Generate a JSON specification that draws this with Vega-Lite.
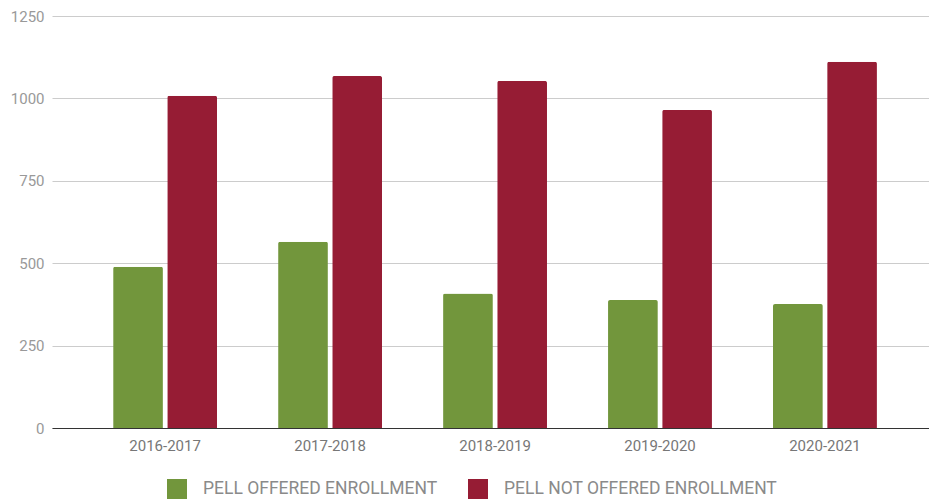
{
  "$schema": "https://vega.github.io/schema/vega-lite/v6.json",
  "width": 877,
  "height": 412,
  "autosize": {"type": "none"},
  "padding": {"left": 52, "top": 16, "right": 0, "bottom": 74},
  "background": "white",
  "config": {
    "view": {"stroke": null},
    "font": "Roboto",
    "axis": {"labelFont": "Roboto", "labelFontSize": 15, "ticks": false}
  },
  "data": {
    "values": [
      {"year": "2016-2017", "group": "PELL OFFERED ENROLLMENT", "count": 489},
      {"year": "2016-2017", "group": "PELL NOT OFFERED ENROLLMENT", "count": 1008},
      {"year": "2017-2018", "group": "PELL OFFERED ENROLLMENT", "count": 565},
      {"year": "2017-2018", "group": "PELL NOT OFFERED ENROLLMENT", "count": 1068},
      {"year": "2018-2019", "group": "PELL OFFERED ENROLLMENT", "count": 408},
      {"year": "2018-2019", "group": "PELL NOT OFFERED ENROLLMENT", "count": 1053},
      {"year": "2019-2020", "group": "PELL OFFERED ENROLLMENT", "count": 388},
      {"year": "2019-2020", "group": "PELL NOT OFFERED ENROLLMENT", "count": 965},
      {"year": "2020-2021", "group": "PELL OFFERED ENROLLMENT", "count": 376},
      {"year": "2020-2021", "group": "PELL NOT OFFERED ENROLLMENT", "count": 1111}
    ]
  },
  "mark": {"type": "bar", "cornerRadiusTopLeft": 2, "cornerRadiusTopRight": 2},
  "encoding": {
    "x": {
      "field": "year",
      "type": "nominal",
      "title": null,
      "scale": {"paddingInner": 0.37, "paddingOuter": 0.343, "align": 0.54},
      "axis": {
        "labelAngle": 0,
        "labelColor": "#777777",
        "labelPadding": 10,
        "domainColor": "#333333",
        "domainWidth": 1
      }
    },
    "xOffset": {
      "field": "group",
      "type": "nominal",
      "sort": ["PELL OFFERED ENROLLMENT", "PELL NOT OFFERED ENROLLMENT"],
      "scale": {"paddingInner": 0.08, "paddingOuter": 0}
    },
    "y": {
      "field": "count",
      "type": "quantitative",
      "title": null,
      "scale": {"domain": [0, 1250], "nice": false},
      "axis": {
        "values": [0, 250, 500, 750, 1000, 1250],
        "format": "d",
        "domain": false,
        "gridColor": "#cccccc",
        "labelColor": "#999999",
        "labelPadding": 8
      }
    },
    "color": {
      "field": "group",
      "type": "nominal",
      "sort": ["PELL OFFERED ENROLLMENT", "PELL NOT OFFERED ENROLLMENT"],
      "scale": {"range": ["#72963c", "#961c34"]},
      "legend": {
        "title": null,
        "orient": "none",
        "direction": "horizontal",
        "legendX": 115,
        "legendY": 463,
        "symbolType": "square",
        "symbolSize": 400,
        "symbolStrokeWidth": 0,
        "symbolOpacity": 1,
        "labelFont": "Roboto",
        "labelFontSize": 17.5,
        "labelLimit": 0,
        "labelColor": "#8a8a8a",
        "labelOffset": 16,
        "columnPadding": 30
      }
    }
  }
}
